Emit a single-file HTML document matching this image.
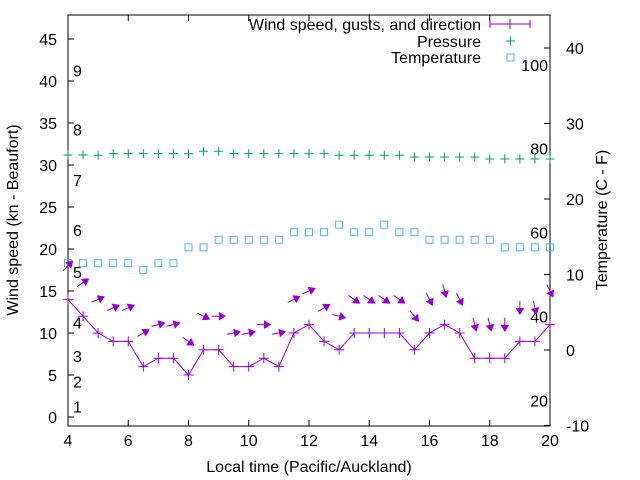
<!DOCTYPE html>
<html><head><meta charset="utf-8"><style>
body{margin:0;background:#fff}
svg{display:block;font-family:"Liberation Sans",sans-serif;font-size:16px}
</style></head><body>
<svg id="c" width="640" height="480" xmlns="http://www.w3.org/2000/svg"></svg>
<script>
const times=[4,4.5,5,5.5,6,6.5,7,7.5,8,8.5,9,9.5,10,10.5,11,11.5,12,12.5,13,13.5,14,14.5,15,15.5,16,16.5,17,17.5,18,18.5,19,19.5,20];
const windSpeed=[14,12,10,9,9,6,7,7,5,8,8,6,6,7,6,10,11,9,8,10,10,10,10,8,10,11,10,7,7,7,9,9,11];
const windGust=[18,16,14,13,13,10,11,11,9,12,12,10,10,11,10,14,15,13,12,14,14,14,14,12,14,15,14,11,11,11,13,13,15];
const windDir=[225,236,247,247,247,240,256,256,305,297,270,260,260,270,260,243,247,239,284,305,305,305,305,321,333,346,333,346,346,360,360,347,333];
const pressure=[1018.0,1018.0,1017.9,1018.6,1018.6,1018.6,1018.6,1018.6,1018.6,1019.7,1019.7,1018.6,1018.6,1018.6,1018.6,1018.6,1018.6,1018.6,1017.9,1017.9,1017.9,1017.9,1017.9,1017.1,1017.1,1017.1,1017.1,1017.1,1016.2,1016.2,1016.2,1016.2,1016.2];
const temperature=[11.5,11.5,11.5,11.5,11.5,10.6,11.5,11.5,13.6,13.6,14.6,14.6,14.6,14.6,14.6,15.6,15.6,15.6,16.6,15.6,15.6,16.6,15.6,15.6,14.6,14.6,14.6,14.6,14.6,13.6,13.6,13.6,13.6];
const xTicks=[4,6,8,10,12,14,16,18,20];
const yTicks=[0,5,10,15,20,25,30,35,40,45];
const y2Ticks=[-10,0,10,20,30,40];
const beaufortLabels=["1","2","3","4","5","6","7","8","9"];
const beaufortKn=[1,4,7,11,17,22,28,34,41];
const fLabels=[20,40,60,80,100];

const L=68,R=550,T=15,B=426;
const xS=t=>L+(t-4)*(R-L)/16;
const yL=v=>417-v*8.4;
const yR=c=>350-c*7.55;
const yP=p=>155-(p-1018)*2.2;
const PURPLE="#9400d3",GREEN="#009e73",BLUE="#56b4e9";
const svg=document.getElementById('c');
const NS="http://www.w3.org/2000/svg";
function mk(tag,attrs,parent){const e=document.createElementNS(NS,tag);for(const k in attrs)e.setAttribute(k,attrs[k]);(parent||svg).appendChild(e);return e;}

let fr=mk('rect',{x:L,y:T,width:R-L,height:B-T,fill:'none',stroke:'#000','stroke-width':1});



xTicks.forEach(t=>{
  const x=xS(t);
  let l=mk('path',{d:`M${x} ${B}v-6M${x} ${T}v6`,stroke:'#000'});
  
  
  let tx=mk('text',{x:x,y:B+20,'text-anchor':'middle'});tx.textContent=t;
  
  
});
yTicks.forEach(v=>{
  const y=yL(v);
  let l=mk('path',{d:`M${L} ${y}h6`,stroke:'#000'});
  
  
  let tx=mk('text',{x:L-11,y:y+6,'text-anchor':'end'});tx.textContent=v;
  
  
});
y2Ticks.forEach(c=>{
  const y=yR(c);
  let l=mk('path',{d:`M${R} ${y}h-6`,stroke:'#000'});
  
  
  let tx=mk('text',{x:R+16,y:y+6,'text-anchor':'start'});tx.textContent=c;
  
  
});
beaufortLabels.forEach((s,i)=>{
  let tx=mk('text',{x:73,y:yL(beaufortKn[i])+4});tx.textContent=s;
  
  
});
fLabels.forEach(f=>{
  let tx=mk('text',{x:548,y:yR((f-32)*5/9)+6,'text-anchor':'end'});tx.textContent=f;
  
  
});

let xt=mk('text',{x:309,y:472,'text-anchor':'middle'});xt.textContent='Local time (Pacific/Auckland)';


let yt=mk('text',{x:0,y:0,'text-anchor':'middle',transform:'translate(18,220) rotate(-90)'});yt.textContent='Wind speed (kn - Beaufort)';


let y2t=mk('text',{x:0,y:0,'text-anchor':'middle',transform:'translate(607,220) rotate(-90)'});y2t.textContent='Temperature (C - F)';



function plus(x,y,s,col,name){
  let p=mk('path',{d:`M${x-s} ${y}h${2*s}M${x} ${y-s}v${2*s}`,stroke:col,'stroke-width':1});
  
  
}
pressure.forEach((p,i)=>plus(xS(times[i]),yP(p),4.5,GREEN,'pressure-point'));
temperature.forEach((c,i)=>{
  let r=mk('rect',{x:xS(times[i])-3.5,y:yR(c)-3.5,width:7,height:7,fill:'none',stroke:BLUE,'stroke-width':1});
  
  
});
let pl=mk('polyline',{points:windSpeed.map((v,i)=>xS(times[i])+','+yL(v)).join(' '),fill:'none',stroke:PURPLE,'stroke-width':1});


windSpeed.forEach((v,i)=>plus(xS(times[i]),yL(v),5,PURPLE,'wind-speed-point'));
windDir.forEach((d,i)=>{
  const to=(d+180)*Math.PI/180;
  const ux=Math.sin(to),uy=-Math.cos(to);
  const cx=xS(times[i]),cy=yL(windGust[i]);
  const len=14,hl=6.5,hw=4;
  const x0=cx-ux*len/2,y0=cy-uy*len/2,x1=cx+ux*len/2,y1=cy+uy*len/2;
  const bx=x1-ux*hl,by=y1-uy*hl;
  const g=mk('g',{});
  
  
  mk('line',{x1:x0,y1:y0,x2:bx,y2:by,stroke:PURPLE,'stroke-width':1},g);
  mk('polygon',{points:`${x1},${y1} ${bx-uy*hw},${by+ux*hw} ${bx+uy*hw},${by-ux*hw}`,fill:PURPLE,stroke:PURPLE,'stroke-width':0.5},g);
});

const leg=mk('g',{});


[['Wind speed, gusts, and direction',30],['Pressure',47],['Temperature',63]].forEach(([s,y])=>{
  let t=mk('text',{x:481,y:y,'text-anchor':'end'},leg);t.textContent=s;
  
  
});
mk('path',{d:'M490 24h40M490 20v8M530 20v8M510 19v10',stroke:PURPLE,'stroke-width':1},leg);
mk('path',{d:'M506 41h9M510.5 36.5v9',stroke:GREEN,'stroke-width':1},leg);
mk('rect',{x:507,y:54,width:7,height:7,fill:'none',stroke:BLUE},leg);
</script>
</body></html>
